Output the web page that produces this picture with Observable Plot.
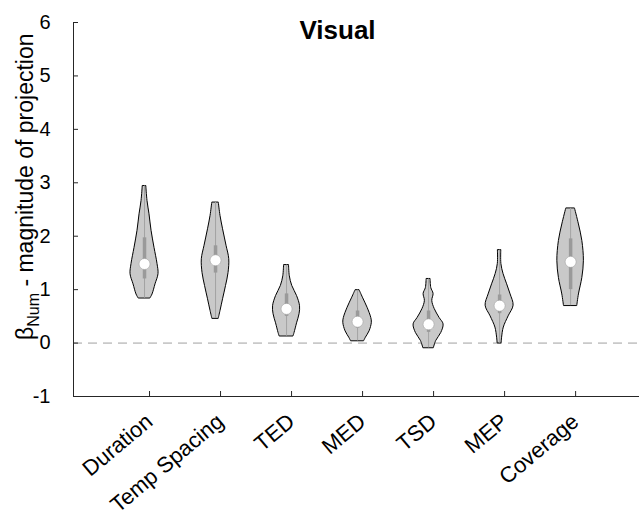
<!DOCTYPE html>
<html><head><meta charset="utf-8">
<script src="https://cdn.jsdelivr.net/npm/d3@7"></script>
<script src="https://cdn.jsdelivr.net/npm/@observablehq/plot@0.6"></script>
<style>body{margin:0;background:#fff;}</style>
</head><body><div id="chart"></div>
<script>
const categories = ["Duration","Temp Spacing","TED","MED","TSD","MEP","Coverage"];
const yTicks = [-1,0,1,2,3,4,5,6];
const medians = [1.48,1.55,0.64,0.40,0.35,0.70,1.52];
const q1 = [1.20,1.31,0.50,0.28,0.20,0.55,1.00];
const q3 = [1.97,1.82,0.92,0.60,0.60,0.90,1.95];
const whiskerLo = [0.84,0.46,0.13,0.04,-0.09,0.00,0.70];
const whiskerHi = [2.94,2.63,1.46,0.99,1.20,1.74,2.52];
// violin profiles: value levels and kernel-density half widths (in category units)
const violinLevels = [
  [0.84,0.91,1.10,1.29,1.48,1.78,2.10,2.41,2.66,2.94],
  [0.46,0.60,0.82,1.07,1.31,1.57,1.82,2.13,2.38,2.63],
  [0.13,0.19,0.37,0.54,0.69,0.88,1.07,1.25,1.46],
  [0.04,0.10,0.22,0.38,0.47,0.66,0.85,0.99],
  [-0.09,0.04,0.19,0.35,0.47,0.64,0.79,0.92,1.03,1.20],
  [0.00,0.10,0.29,0.50,0.70,0.91,1.10,1.29,1.48,1.74],
  [0.70,0.91,1.22,1.54,1.91,2.22,2.52]
];
const violinHalfWidths = [
  [0.085,0.113,0.155,0.197,0.183,0.141,0.099,0.070,0.042,0.025],
  [0.046,0.070,0.106,0.148,0.183,0.193,0.155,0.106,0.070,0.046],
  [0.099,0.113,0.148,0.183,0.190,0.148,0.080,0.046,0.035],
  [0.094,0.117,0.169,0.201,0.193,0.141,0.075,0.028],
  [0.075,0.108,0.179,0.211,0.155,0.085,0.052,0.070,0.038,0.028],
  [0.028,0.035,0.059,0.127,0.197,0.155,0.106,0.056,0.025,0.024],
  [0.094,0.117,0.165,0.187,0.165,0.117,0.061]
];
const title = "Visual";

const positions = categories.map((c,i)=>i+1);
const violinRows = categories.flatMap((c,i)=>violinLevels[i].map((v,j)=>({cat:c,pos:i+1,y:v,w:violinHalfWidths[i][j]})));
const stats = categories.map((c,i)=>({cat:c,pos:i+1,med:medians[i],q1:q1[i],q3:q3[i],lo:whiskerLo[i],hi:whiskerHi[i]}));
const ink = "#262626";

const plot = Plot.plot({
  width:639, height:518,
  marginLeft:73, marginRight:0, marginTop:22, marginBottom:122,
  style:{fontFamily:"'Liberation Sans', Arial, sans-serif", fontSize:"20px", color:ink, background:"#fff"},
  x:{domain:[0,7.97]},
  y:{domain:[-1,6]},
  marks:[
    Plot.ruleY([0],{stroke:"#a0a0a0",strokeDasharray:"9,6",strokeWidth:1}),
    Plot.areaX(violinRows,{y:"y",x1:d=>d.pos-d.w,x2:d=>d.pos+d.w,z:"cat",fill:"#c9c9c9",stroke:"#000",strokeWidth:1,curve:"catmull-rom"}),
    Plot.ruleX(stats,{x:"pos",y1:"lo",y2:"hi",stroke:"#a3a3a3",strokeWidth:1}),
    Plot.ruleX(stats,{x:"pos",y1:"q1",y2:"q3",stroke:"#9a9a9a",strokeWidth:3.5}),
    Plot.dot(stats,{x:"pos",y:"med",r:5.5,fill:"#fff",stroke:"#999",strokeWidth:0.5}),
    Plot.axisY({ticks:yTicks,tickFormat:d=>String(d),tickSize:-5,tickPadding:28,label:null,stroke:ink,fill:"#000"}),
    Plot.axisX({ticks:positions,tickFormat:d=>categories[d-1],tickSize:-5,tickPadding:27,dx:5,tickRotate:-40,fontSize:22,label:null,stroke:ink,fill:"#000"}),
    Plot.ruleX([0],{stroke:ink,strokeWidth:1}),
    Plot.ruleY([-1],{stroke:ink,strokeWidth:1}),
    Plot.text([title],{frameAnchor:"top",dx:-19,dy:8,lineAnchor:"middle",fontWeight:"bold",fontSize:26,fill:"#000"})
  ]
});
const svg = d3.select(plot);
const lab = svg.append("text")
  .attr("transform","translate(33,340) rotate(-90)")
  .attr("font-size",23).attr("fill","#000").attr("text-anchor","start");
lab.append("tspan").text("β");
lab.append("tspan").attr("font-size",16).attr("dy",6).text("Num");
lab.append("tspan").attr("dy",-6).text(" - magnitude of projection");
document.getElementById("chart").appendChild(plot);
</script>
</body></html>
